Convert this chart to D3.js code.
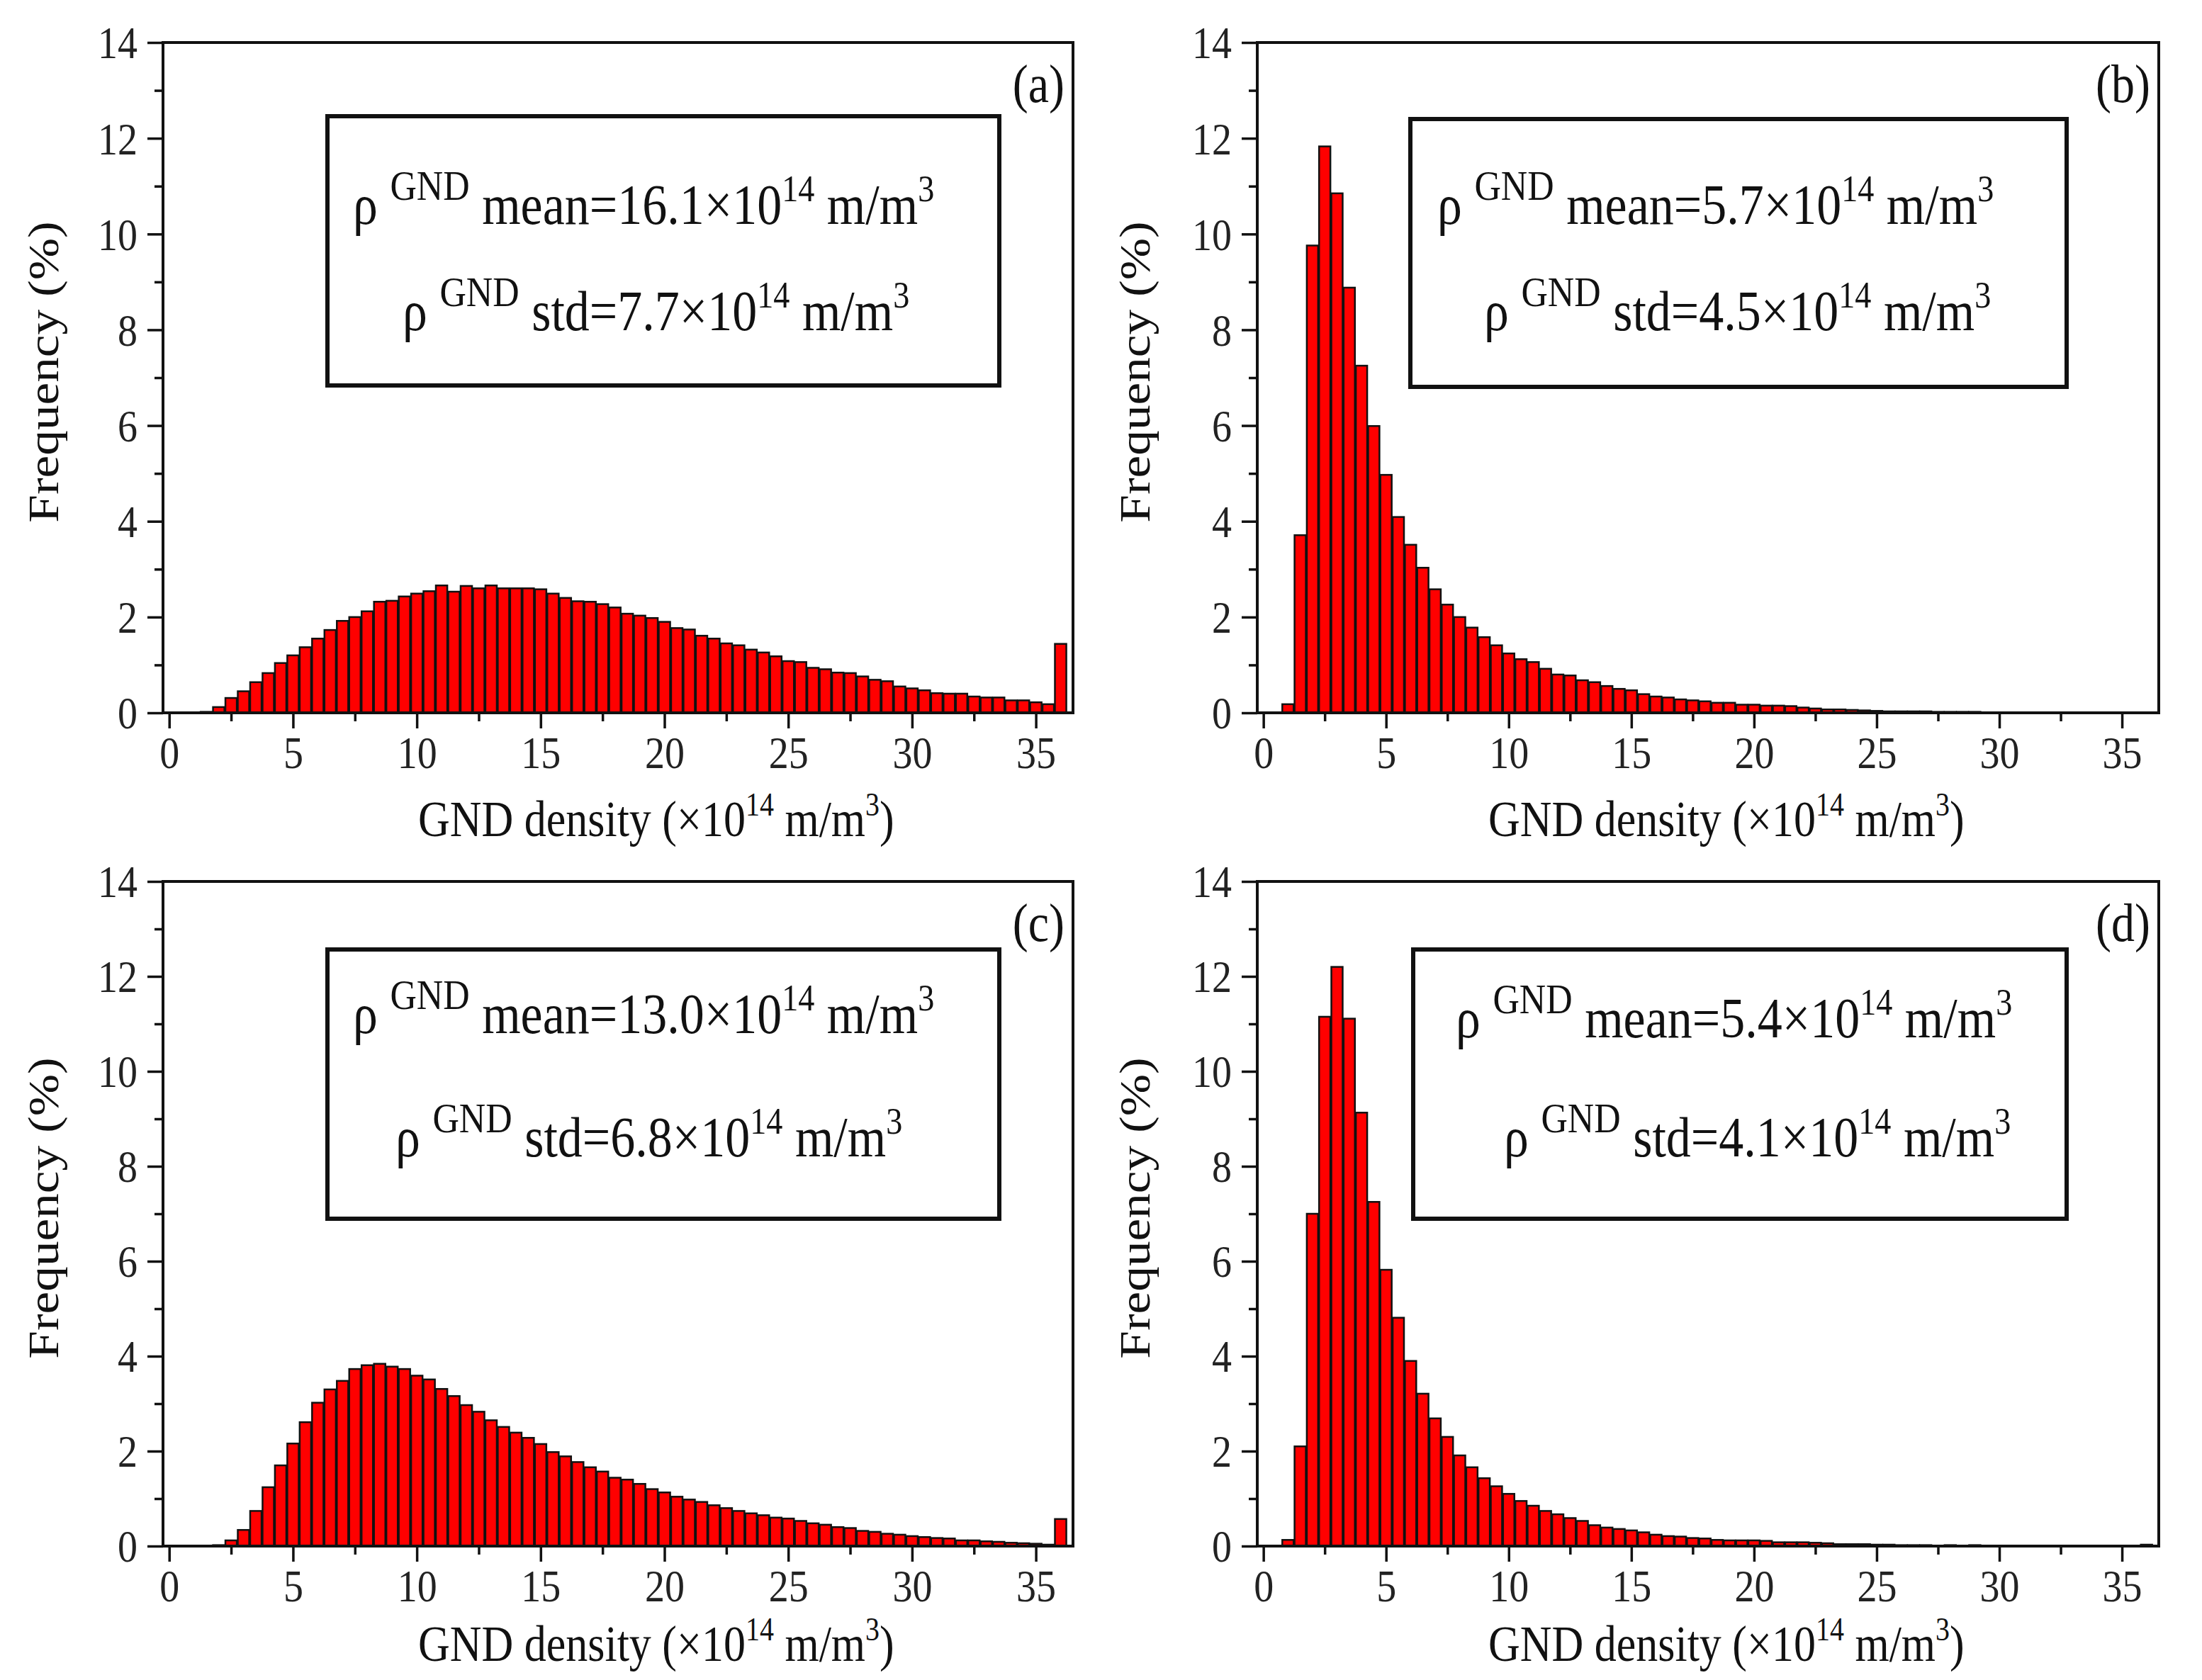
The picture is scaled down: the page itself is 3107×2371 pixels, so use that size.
<!DOCTYPE html>
<html>
<head>
<meta charset="utf-8">
<script src="https://cdn.jsdelivr.net/npm/d3@7"></script>
<style>
  body { margin: 0; background: #fff; }
</style>
</head>
<body>
<div id="chart"></div>
<script>
// bin centres (x10^14 m/m^3), 0.5 wide bins
const binCenters = [
  0, 0.5, 1, 1.5, 2, 2.5, 3, 3.5, 4, 4.5,
  5, 5.5, 6, 6.5, 7, 7.5, 8, 8.5, 9, 9.5,
  10, 10.5, 11, 11.5, 12, 12.5, 13, 13.5, 14, 14.5,
  15, 15.5, 16, 16.5, 17, 17.5, 18, 18.5, 19, 19.5,
  20, 20.5, 21, 21.5, 22, 22.5, 23, 23.5, 24, 24.5,
  25, 25.5, 26, 26.5, 27, 27.5, 28, 28.5, 29, 29.5,
  30, 30.5, 31, 31.5, 32, 32.5, 33, 33.5, 34, 34.5,
  35, 35.5, 36
];

// frequency (%) per bin
const freqA = [
  0, 0, 0, 0.02, 0.12, 0.31, 0.45, 0.64, 0.83, 1.04,
  1.20, 1.37, 1.55, 1.73, 1.92, 2.00, 2.12, 2.32, 2.34, 2.43,
  2.49, 2.54, 2.66, 2.53, 2.65, 2.60, 2.66, 2.60, 2.60, 2.60,
  2.58, 2.49, 2.40, 2.33, 2.32, 2.27, 2.20, 2.07, 2.03, 1.98,
  1.90, 1.77, 1.74, 1.61, 1.55, 1.45, 1.41, 1.32, 1.26, 1.18,
  1.08, 1.06, 0.94, 0.91, 0.84, 0.83, 0.76, 0.69, 0.66, 0.55,
  0.51, 0.47, 0.41, 0.40, 0.40, 0.34, 0.32, 0.32, 0.26, 0.26,
  0.22, 0.18, 1.44
];
const freqB = [
  0, 0, 0.18, 3.71, 9.76, 11.83, 10.85, 8.88, 7.25, 5.99,
  4.97, 4.09, 3.51, 3.03, 2.58, 2.26, 2.00, 1.78, 1.58, 1.41,
  1.24, 1.12, 1.06, 0.92, 0.80, 0.78, 0.68, 0.64, 0.56, 0.50,
  0.47, 0.39, 0.34, 0.32, 0.28, 0.26, 0.24, 0.21, 0.21, 0.17,
  0.17, 0.15, 0.15, 0.14, 0.11, 0.09, 0.07, 0.07, 0.06, 0.05,
  0.04, 0.03, 0.03, 0.03, 0.03, 0.02, 0.02, 0.02, 0.02, 0.01,
  0, 0, 0, 0, 0, 0, 0, 0, 0, 0,
  0, 0, 0
];
const freqC = [
  0, 0, 0, 0, 0.02, 0.12, 0.34, 0.74, 1.24, 1.70,
  2.16, 2.61, 3.02, 3.30, 3.48, 3.73, 3.81, 3.84, 3.78, 3.73,
  3.59, 3.51, 3.31, 3.16, 2.97, 2.83, 2.65, 2.51, 2.39, 2.28,
  2.15, 1.98, 1.89, 1.77, 1.66, 1.57, 1.44, 1.40, 1.31, 1.20,
  1.13, 1.04, 0.98, 0.93, 0.86, 0.80, 0.74, 0.69, 0.65, 0.60,
  0.58, 0.53, 0.48, 0.45, 0.40, 0.38, 0.32, 0.30, 0.26, 0.24,
  0.21, 0.19, 0.17, 0.16, 0.12, 0.12, 0.10, 0.09, 0.07, 0.06,
  0.05, 0.03, 0.57
];
const freqD = [
  0, 0, 0.13, 2.10, 7.00, 11.15, 12.20, 11.11, 9.13, 7.25,
  5.82, 4.81, 3.90, 3.21, 2.69, 2.30, 1.91, 1.66, 1.43, 1.26,
  1.10, 0.95, 0.85, 0.74, 0.67, 0.59, 0.53, 0.44, 0.39, 0.36,
  0.33, 0.29, 0.24, 0.21, 0.20, 0.17, 0.16, 0.13, 0.12, 0.12,
  0.12, 0.11, 0.08, 0.08, 0.08, 0.07, 0.06, 0.04, 0.04, 0.04,
  0.03, 0.03, 0.02, 0.02, 0.02, 0.01, 0.02, 0.01, 0.02, 0.01,
  0.005, 0.005, 0.005, 0.005, 0.005, 0.005, 0.005, 0.005, 0.005, 0.005,
  0.005, 0.005, 0.03
];

const meanValues = ["16.1", "5.7", "13.0", "5.4"];
const stdValues = ["7.7", "4.5", "6.8", "4.1"];
const panelLabels = ["(a)", "(b)", "(c)", "(d)"];

const xTicks = [0, 5, 10, 15, 20, 25, 30, 35];
const xMinorTicks = [2.5, 7.5, 12.5, 17.5, 22.5, 27.5, 32.5];
const yTicks = [0, 2, 4, 6, 8, 10, 12, 14];
const yMinorTicks = [1, 3, 5, 7, 9, 11, 13];

const width = 3107;
const height = 2371;
const SY = 1.15;            // the figure is a bit stretched vertically
const font = "'Liberation Serif', 'Times New Roman', serif";
const binWidth = 0.46;

// panel frames and text placement
const layout = [
  { left: 230, right: 1514, top: 60, bottom: 1006, titleX: 82, xTitleX: 590, xTitleDy: 174,
    box: [462, 164, 948, 380], l1: [498, 316], l2: [568, 466] },
  { left: 1774, right: 3046, top: 60, bottom: 1006, titleX: 1622, xTitleX: 2100, xTitleDy: 174,
    box: [1990, 168, 926, 378], l1: [2028, 316], l2: [2094, 466] },
  { left: 230, right: 1514, top: 1244, bottom: 2182, titleX: 82, xTitleX: 590, xTitleDy: 162,
    box: [462, 1340, 948, 380], l1: [498, 1458], l2: [558, 1632] },
  { left: 1774, right: 3046, top: 1244, bottom: 2182, titleX: 1622, xTitleX: 2100, xTitleDy: 162,
    box: [1994, 1340, 922, 380], l1: [2054, 1464], l2: [2122, 1632] }
];
const series = [freqA, freqB, freqC, freqD];

const svg = d3.select("#chart").append("svg")
    .attr("width", width)
    .attr("height", height);

svg.append("rect")
    .attr("width", width)
    .attr("height", height)
    .attr("fill", "#fff");

function stretchedText(g, x, y, size) {
  return g.append("text")
      .attr("transform", `translate(${x},${y}) scale(1,${SY})`)
      .style("font-family", font)
      .style("font-size", size + "px")
      .attr("fill", "#111");
}

function supText(t, base, size, s) {
  t.append("tspan").attr("dy", -0.4 * base).style("font-size", size + "px").text(s);
}

function statLine(g, x, y, name, value) {
  const F = 70;
  const t = stretchedText(g, x, y, F);
  t.append("tspan").text("\u03c1 ");
  t.append("tspan").attr("dy", -0.42 * F).style("font-size", 0.74 * F + "px").text("GND");
  t.append("tspan").attr("dy", 0.42 * F).text(` ${name}=${value}\u00d710`);
  supText(t, F, 0.66 * F, "14");
  t.append("tspan").attr("dy", 0.4 * F).text(" m/m");
  supText(t, F, 0.66 * F, "3");
}

layout.forEach((p, i) => {
  const g = svg.append("g").attr("class", "panel");

  const xScale = d3.scaleLinear()
    .domain([-0.25, 36.5])
    .range([p.left, p.right]);

  const yScale = d3.scaleLinear()
    .domain([0, 14])
    .range([p.bottom, p.top]);

  const data = binCenters.map((c, k) => ({ c: c, v: series[i][k] }));

  // bars
  g.selectAll("rect.bar")
    .data(data)
    .join("rect")
      .attr("class", "bar")
      .attr("x", d => xScale(d.c - binWidth / 2))
      .attr("width", xScale(binWidth) - xScale(0))
      .attr("y", d => yScale(d.v))
      .attr("height", d => yScale(0) - yScale(d.v))
      .attr("fill", "#ff0000")
      .attr("stroke", "#111")
      .attr("stroke-width", 2.5);

  // frame
  g.append("rect")
      .attr("x", p.left)
      .attr("y", p.top)
      .attr("width", p.right - p.left)
      .attr("height", p.bottom - p.top)
      .attr("fill", "none")
      .attr("stroke", "#111")
      .attr("stroke-width", 4);

  // axes
  const xAxis = g.append("g")
      .attr("transform", `translate(0,${p.bottom})`)
      .call(d3.axisBottom(xScale).tickValues(xTicks).tickSize(22).tickSizeOuter(0));
  g.append("g")
      .attr("transform", `translate(0,${p.bottom})`)
      .call(d3.axisBottom(xScale).tickValues(xMinorTicks).tickSize(12).tickFormat(""));

  const yAxis = g.append("g")
      .attr("transform", `translate(${p.left},0)`)
      .call(d3.axisLeft(yScale).tickValues(yTicks).tickSize(22).tickSizeOuter(0));
  g.append("g")
      .attr("transform", `translate(${p.left},0)`)
      .call(d3.axisLeft(yScale).tickValues(yMinorTicks).tickSize(12).tickFormat(""));

  g.selectAll(".domain").remove();
  g.selectAll(".tick line").attr("stroke", "#111").attr("stroke-width", 3.5);

  xAxis.selectAll(".tick text")
      .attr("y", null)
      .attr("dy", "0.71em")
      .attr("transform", `translate(0,32) scale(1,${SY})`)
      .style("font-family", font)
      .style("font-size", "56px")
      .attr("fill", "#222");

  yAxis.selectAll(".tick text")
      .attr("x", -36)
      .attr("dy", "0.34em")
      .attr("transform", `scale(1,${SY})`)
      .style("font-family", font)
      .style("font-size", "56px")
      .attr("fill", "#222");

  // axis titles
  g.append("text")
      .attr("transform", `translate(${p.titleX},${(p.top + p.bottom) / 2 - 8}) scale(1,${SY}) rotate(-90)`)
      .attr("text-anchor", "middle")
      .style("font-family", font)
      .style("font-size", "62px")
      .attr("fill", "#111")
      .text("Frequency (%)");

  const xt = stretchedText(g, p.xTitleX, p.bottom + p.xTitleDy, 62);
  xt.append("tspan").text("GND density (\u00d710");
  supText(xt, 62, 40, "14");
  xt.append("tspan").attr("dy", 0.4 * 62).text(" m/m");
  supText(xt, 62, 40, "3");
  xt.append("tspan").attr("dy", 0.4 * 62).text(")");

  // panel label
  stretchedText(g, p.right - 12, p.top + 84, 66)
      .attr("text-anchor", "end")
      .text(panelLabels[i]);

  // statistics box
  g.append("rect")
      .attr("x", p.box[0])
      .attr("y", p.box[1])
      .attr("width", p.box[2])
      .attr("height", p.box[3])
      .attr("fill", "none")
      .attr("stroke", "#111")
      .attr("stroke-width", 6);

  statLine(g, p.l1[0], p.l1[1], "mean", meanValues[i]);
  statLine(g, p.l2[0], p.l2[1], "std", stdValues[i]);
});
</script>
</body>
</html>
